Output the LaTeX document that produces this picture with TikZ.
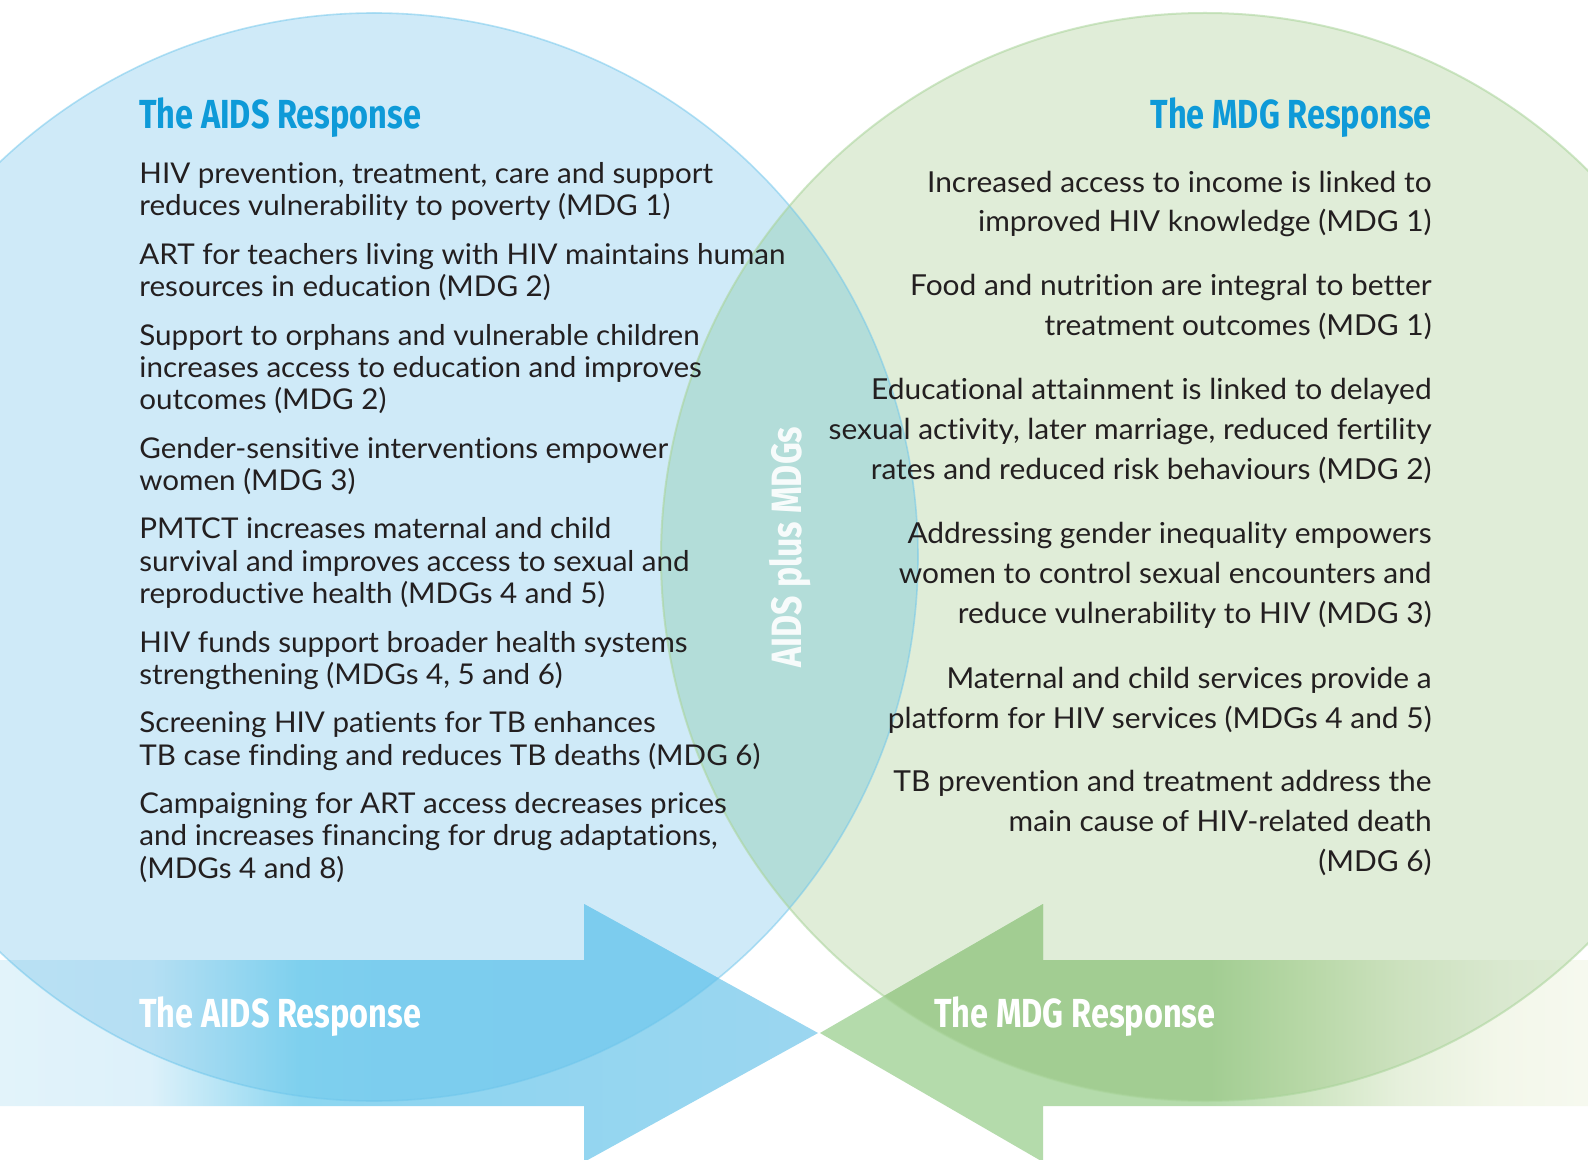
\documentclass[tikz,border=0pt]{standalone}
\usepackage{fontspec}
\setmainfont{Lato}[FakeStretch=1.035, RawFeature={-liga;-dlig}]
\newfontfamily\condfont[FakeStretch=0.80]{Fira Sans}

\definecolor{bluecirc}{HTML}{CFEAF8}
\definecolor{greencirc}{HTML}{E0EDD8}
\definecolor{lenscol}{HTML}{B3DDD9}
\definecolor{blueedge}{HTML}{6EC6EC}
\definecolor{greenedge}{HTML}{A9D49A}
\definecolor{titleblue}{HTML}{0E9AD8}
\definecolor{textcol}{HTML}{231F20}

\definecolor{bo0}{HTML}{E2F3FA}
\definecolor{bo1}{HTML}{DDF1FA}
\definecolor{bo2}{HTML}{8CD6F0}
\definecolor{bo3}{HTML}{8ED5F0}
\definecolor{bo4}{HTML}{9BD6F0}
\definecolor{bi0}{HTML}{B9E0F3}
\definecolor{bi1}{HTML}{B5DFF3}
\definecolor{bi2}{HTML}{7ED0EE}
\definecolor{bi3}{HTML}{7CCDEE}
\definecolor{bi4}{HTML}{7CCBEE}

\definecolor{go0}{HTML}{B4DBAB}
\definecolor{go2}{HTML}{CCE4BF}
\definecolor{go3}{HTML}{E6F0DC}
\definecolor{go4}{HTML}{F3F7EA}
\definecolor{go5}{HTML}{F6F9EF}
\definecolor{gi0}{HTML}{A2CD92}
\definecolor{gi2}{HTML}{B6D7A5}
\definecolor{gi3}{HTML}{CCE1BE}
\definecolor{gi4}{HTML}{D9E8CF}
\definecolor{gi5}{HTML}{DEECD5}

\pgfdeclarehorizontalshading{blueout}{100bp}{color(0bp)=(bo0); color(25bp)=(bo0); color(34.17bp)=(bo1); color(43.34bp)=(bo2); color(48.53bp)=(bo3); color(75bp)=(bo4); color(100bp)=(bo4)}
\pgfdeclarehorizontalshading{bluein}{100bp}{color(0bp)=(bi0); color(25bp)=(bi0); color(34.17bp)=(bi1); color(43.34bp)=(bi2); color(48.53bp)=(bi3); color(75bp)=(bi4); color(100bp)=(bi4)}
\pgfdeclarehorizontalshading{greenout}{100bp}{color(0bp)=(go0); color(25bp)=(go0); color(50.39bp)=(go0); color(56.25bp)=(go2); color(62.76bp)=(go3); color(69.27bp)=(go4); color(75bp)=(go5); color(100bp)=(go5)}
\pgfdeclarehorizontalshading{greenin}{100bp}{color(0bp)=(gi0); color(25bp)=(gi0); color(50.39bp)=(gi0); color(56.25bp)=(gi2); color(62.76bp)=(gi3); color(69.27bp)=(gi4); color(75bp)=(gi5); color(100bp)=(gi5)}

\newcommand{\lblk}[1]{\begin{tabular}[t]{@{}l@{}}#1\end{tabular}}
\newcommand{\rblk}[1]{\begin{tabular}[t]{@{}r@{}}#1\end{tabular}}
\renewcommand{\arraystretch}{1}

\tikzset{
  body/.style={font=\fontsize{14.3}{16.2}\selectfont, text=textcol, inner sep=0pt, anchor=base west},
  bodyr/.style={font=\fontsize{14.45}{19.85}\selectfont, text=textcol, inner sep=0pt, anchor=base east},
  ttl/.style={font=\condfont\bfseries\fontsize{20.3}{24}\selectfont, text=titleblue, inner sep=0pt},
  arrlbl/.style={font=\condfont\bfseries\fontsize{20.3}{24}\selectfont, text=white, inner sep=0pt, anchor=base west},
  vlbl/.style={font=\condfont\bfseries\fontsize{21.2}{26}\selectfont, text=white, text opacity=0.9, inner sep=0pt},
}

\begin{document}
\begin{tikzpicture}[x={(0.5pt,0pt)}, y={(0pt,-0.5pt)}]
\useasboundingbox (0,0) rectangle (1588,1160);
\clip (0,0) rectangle (1588,1160);
\fill[white] (0,0) rectangle (1588,1160);

% circles
\fill[bluecirc] (374,557) circle[radius=544];
\fill[greencirc] (1205,557) circle[radius=544];
\begin{scope}
  \clip (374,557) circle[radius=544];
  \fill[lenscol] (1205,557) circle[radius=544];
\end{scope}

% blue arrow
\def\bluearrow{(0,960) -- (584,960) -- (584,904) -- (818,1033) -- (584,1162) -- (584,1106) -- (0,1106) -- cycle}
\shade[shading=blueout] \bluearrow;
\begin{scope}
  \clip (374,557) circle[radius=544];
  \shade[shading=bluein] \bluearrow;
\end{scope}

% green arrow
\def\greenarrow{(1588,960) -- (1043,960) -- (1043,904) -- (820,1033) -- (1043,1162) -- (1043,1106) -- (1588,1106) -- cycle}
\shade[shading=greenout] \greenarrow;
\begin{scope}
  \clip (1205,557) circle[radius=544];
  \shade[shading=greenin] \greenarrow;
\end{scope}

% outlines
\draw[blueedge, line width=0.8pt, opacity=0.5] (374,557) circle[radius=544];
\draw[greenedge, line width=1pt, opacity=0.55] (1205,557) circle[radius=544];

% titles
\node[ttl, anchor=base west] (tA) at (139,129) {The AIDS Response};
\node[ttl, anchor=base east] (tM) at (1432,129) {The MDG Response};

% left blocks
\node[body] (a1) at (139,183.2) {\lblk{HIV prevention, treatment, care and support\\reduces vulnerability to poverty (MDG 1)}};
\node[body] (a2) at (139,264.2) {\lblk{ART for teachers living with HIV maintains human\\resources in education (MDG 2)}};
\node[body] (a3) at (139,345.2) {\lblk{Support to orphans and vulnerable children\\increases access to education and improves\\outcomes (MDG 2)}};
\node[body] (a4) at (139,458.1) {\lblk{Gender-sensitive interventions empower\\women (MDG 3)}};
\node[body] (a5) at (139,538.9) {\lblk{PMTCT increases maternal and child\\survival and improves access to sexual and\\reproductive health (MDGs 4 and 5)}};
\node[body] (a6) at (139,652.2) {\lblk{HIV funds support broader health systems\\strengthening (MDGs 4, 5 and 6)}};
\node[body] (a7) at (139,732.6) {\lblk{Screening HIV patients for TB enhances\\TB case finding and reduces TB deaths (MDG 6)}};
\node[body] (a8) at (139,813.2) {\lblk{Campaigning for ART access decreases prices\\and increases financing for drug adaptations,\\(MDGs 4 and 8)}};

% right blocks
\node[bodyr] (m1) at (1432,192.3) {\rblk{Increased access to income is linked to\\improved HIV knowledge (MDG 1)}};
\node[bodyr] (m2) at (1432,295.6) {\rblk{Food and nutrition are integral to better\\treatment outcomes (MDG 1)}};
\node[bodyr] (m3) at (1432,399.9) {\rblk{Educational attainment is linked to delayed\\sexual activity, later marriage, reduced fertility\\rates and reduced risk behaviours (MDG 2)}};
\node[bodyr] (m4) at (1432,543.9) {\rblk{Addressing gender inequality empowers\\women to control sexual encounters and\\reduce vulnerability to HIV (MDG 3)}};
\node[bodyr] (m5) at (1432,688.6) {\rblk{Maternal and child services provide a\\platform for HIV services (MDGs 4 and 5)}};
\node[bodyr] (m6) at (1432,791.9) {\rblk{TB prevention and treatment address the\\main cause of HIV-related death\\(MDG 6)}};

% centre label
\node[vlbl, rotate=90] (mid) at (790,547) {AIDS plus MDGs};

% arrow labels
\node[arrlbl] (bA) at (139,1027) {The AIDS Response};
\node[arrlbl] (bM) at (934,1027) {The MDG Response};
\end{tikzpicture}
\end{document}
